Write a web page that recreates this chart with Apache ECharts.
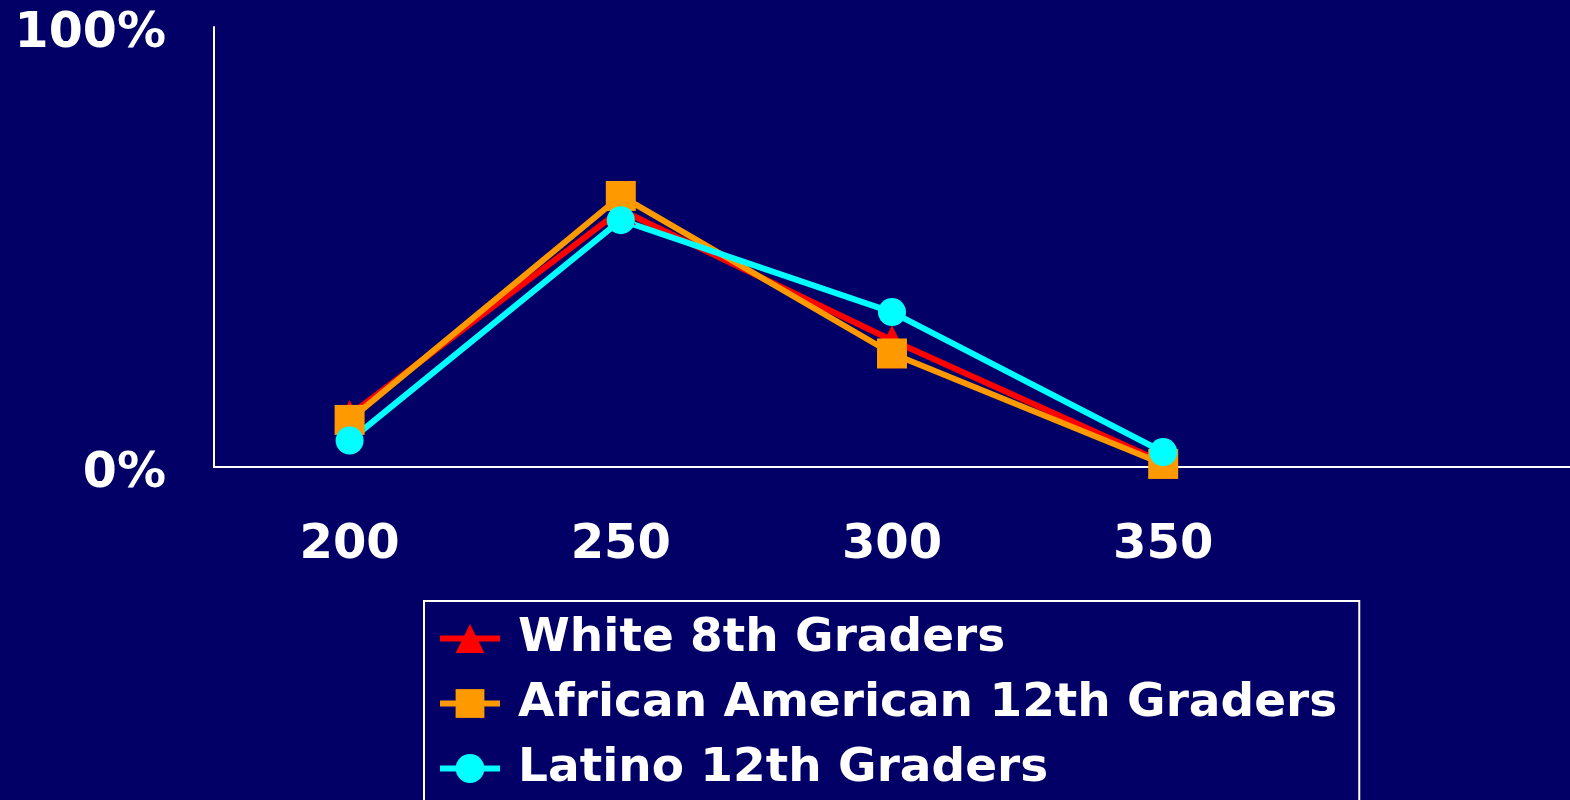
<!DOCTYPE html>
<html>
<head>
<meta charset="utf-8">
<script src="https://cdn.jsdelivr.net/npm/echarts@6/dist/echarts.min.js"></script>
<style>
  html, body { margin: 0; padding: 0; background: #020066; }
  #chart { width: 1570px; height: 800px; }
</style>
</head>
<body>
<div id="chart"></div>
<script>
// Scale scores on the x axis; the trailing blank slot keeps the axis running on past 350.
const scoreLabels = ['200', '250', '300', '350', ''];

// Share of students (%) at each score level.
const white8th = [11.8, 58.4, 28.8, 1.0];
const africanAmerican12th = [10.7, 61.6, 25.8, 0.7];
const latino12th = [6.0, 56.1, 35.2, 3.4];

const yTicks = [0, 100];

const FONT = '"DejaVu Sans", Verdana, sans-serif';
const LINE_W = 6;

const chart = echarts.init(document.getElementById('chart'), null, { renderer: 'canvas' });

function lineSeries(name, data, color, symbol, size) {
  return {
    name: name,
    type: 'line',
    data: data,
    symbol: symbol,
    symbolSize: size,
    showAllSymbol: true,
    lineStyle: { color: color, width: LINE_W },
    itemStyle: { color: color },
    emphasis: { disabled: true },
    animation: false
  };
}

chart.setOption({
  backgroundColor: '#020066',
  textStyle: { fontFamily: FONT },
  grid: { left: 214, right: 0, top: 27, bottom: 333 },
  xAxis: {
    type: 'category',
    data: scoreLabels,
    boundaryGap: true,
    axisLine: { lineStyle: { color: '#ffffff', width: 2 } },
    axisTick: { show: false },
    axisLabel: {
      color: '#ffffff', fontSize: 48, fontWeight: 'bold', fontFamily: FONT,
      margin: 55, interval: 0
    },
    splitLine: { show: false }
  },
  yAxis: {
    type: 'value',
    min: yTicks[0],
    max: yTicks[1],
    interval: yTicks[1] - yTicks[0],
    axisLine: { show: true, lineStyle: { color: '#ffffff', width: 2 } },
    axisTick: { show: false },
    axisLabel: {
      color: '#ffffff', fontSize: 49, fontWeight: 'bold', fontFamily: FONT,
      margin: 48, formatter: '{value}%',
      verticalAlign: 'top',
      lineHeight: 14
    },
    splitLine: { show: false }
  },
  legend: {
    orient: 'vertical',
    left: 424,
    top: 601,
    height: 300,
    padding: [14, 22, 13, 13],
    itemWidth: 60,
    itemHeight: 36,
    itemGap: 18,
    borderColor: '#ffffff',
    borderWidth: 2,
    lineStyle: { width: LINE_W },
    textStyle: {
      color: '#ffffff', fontSize: 47, fontWeight: 'bold', fontFamily: FONT,
      padding: [0, 0, 0, 13]
    },
    data: ['White 8th Graders', 'African American 12th Graders', 'Latino 12th Graders']
  },
  series: [
    lineSeries('White 8th Graders', white8th, '#ff0000', 'triangle', 30),
    lineSeries('African American 12th Graders', africanAmerican12th, '#ff9900', 'rect', 30),
    lineSeries('Latino 12th Graders', latino12th, '#00ffff', 'circle', 28)
  ]
});
</script>
</body>
</html>
